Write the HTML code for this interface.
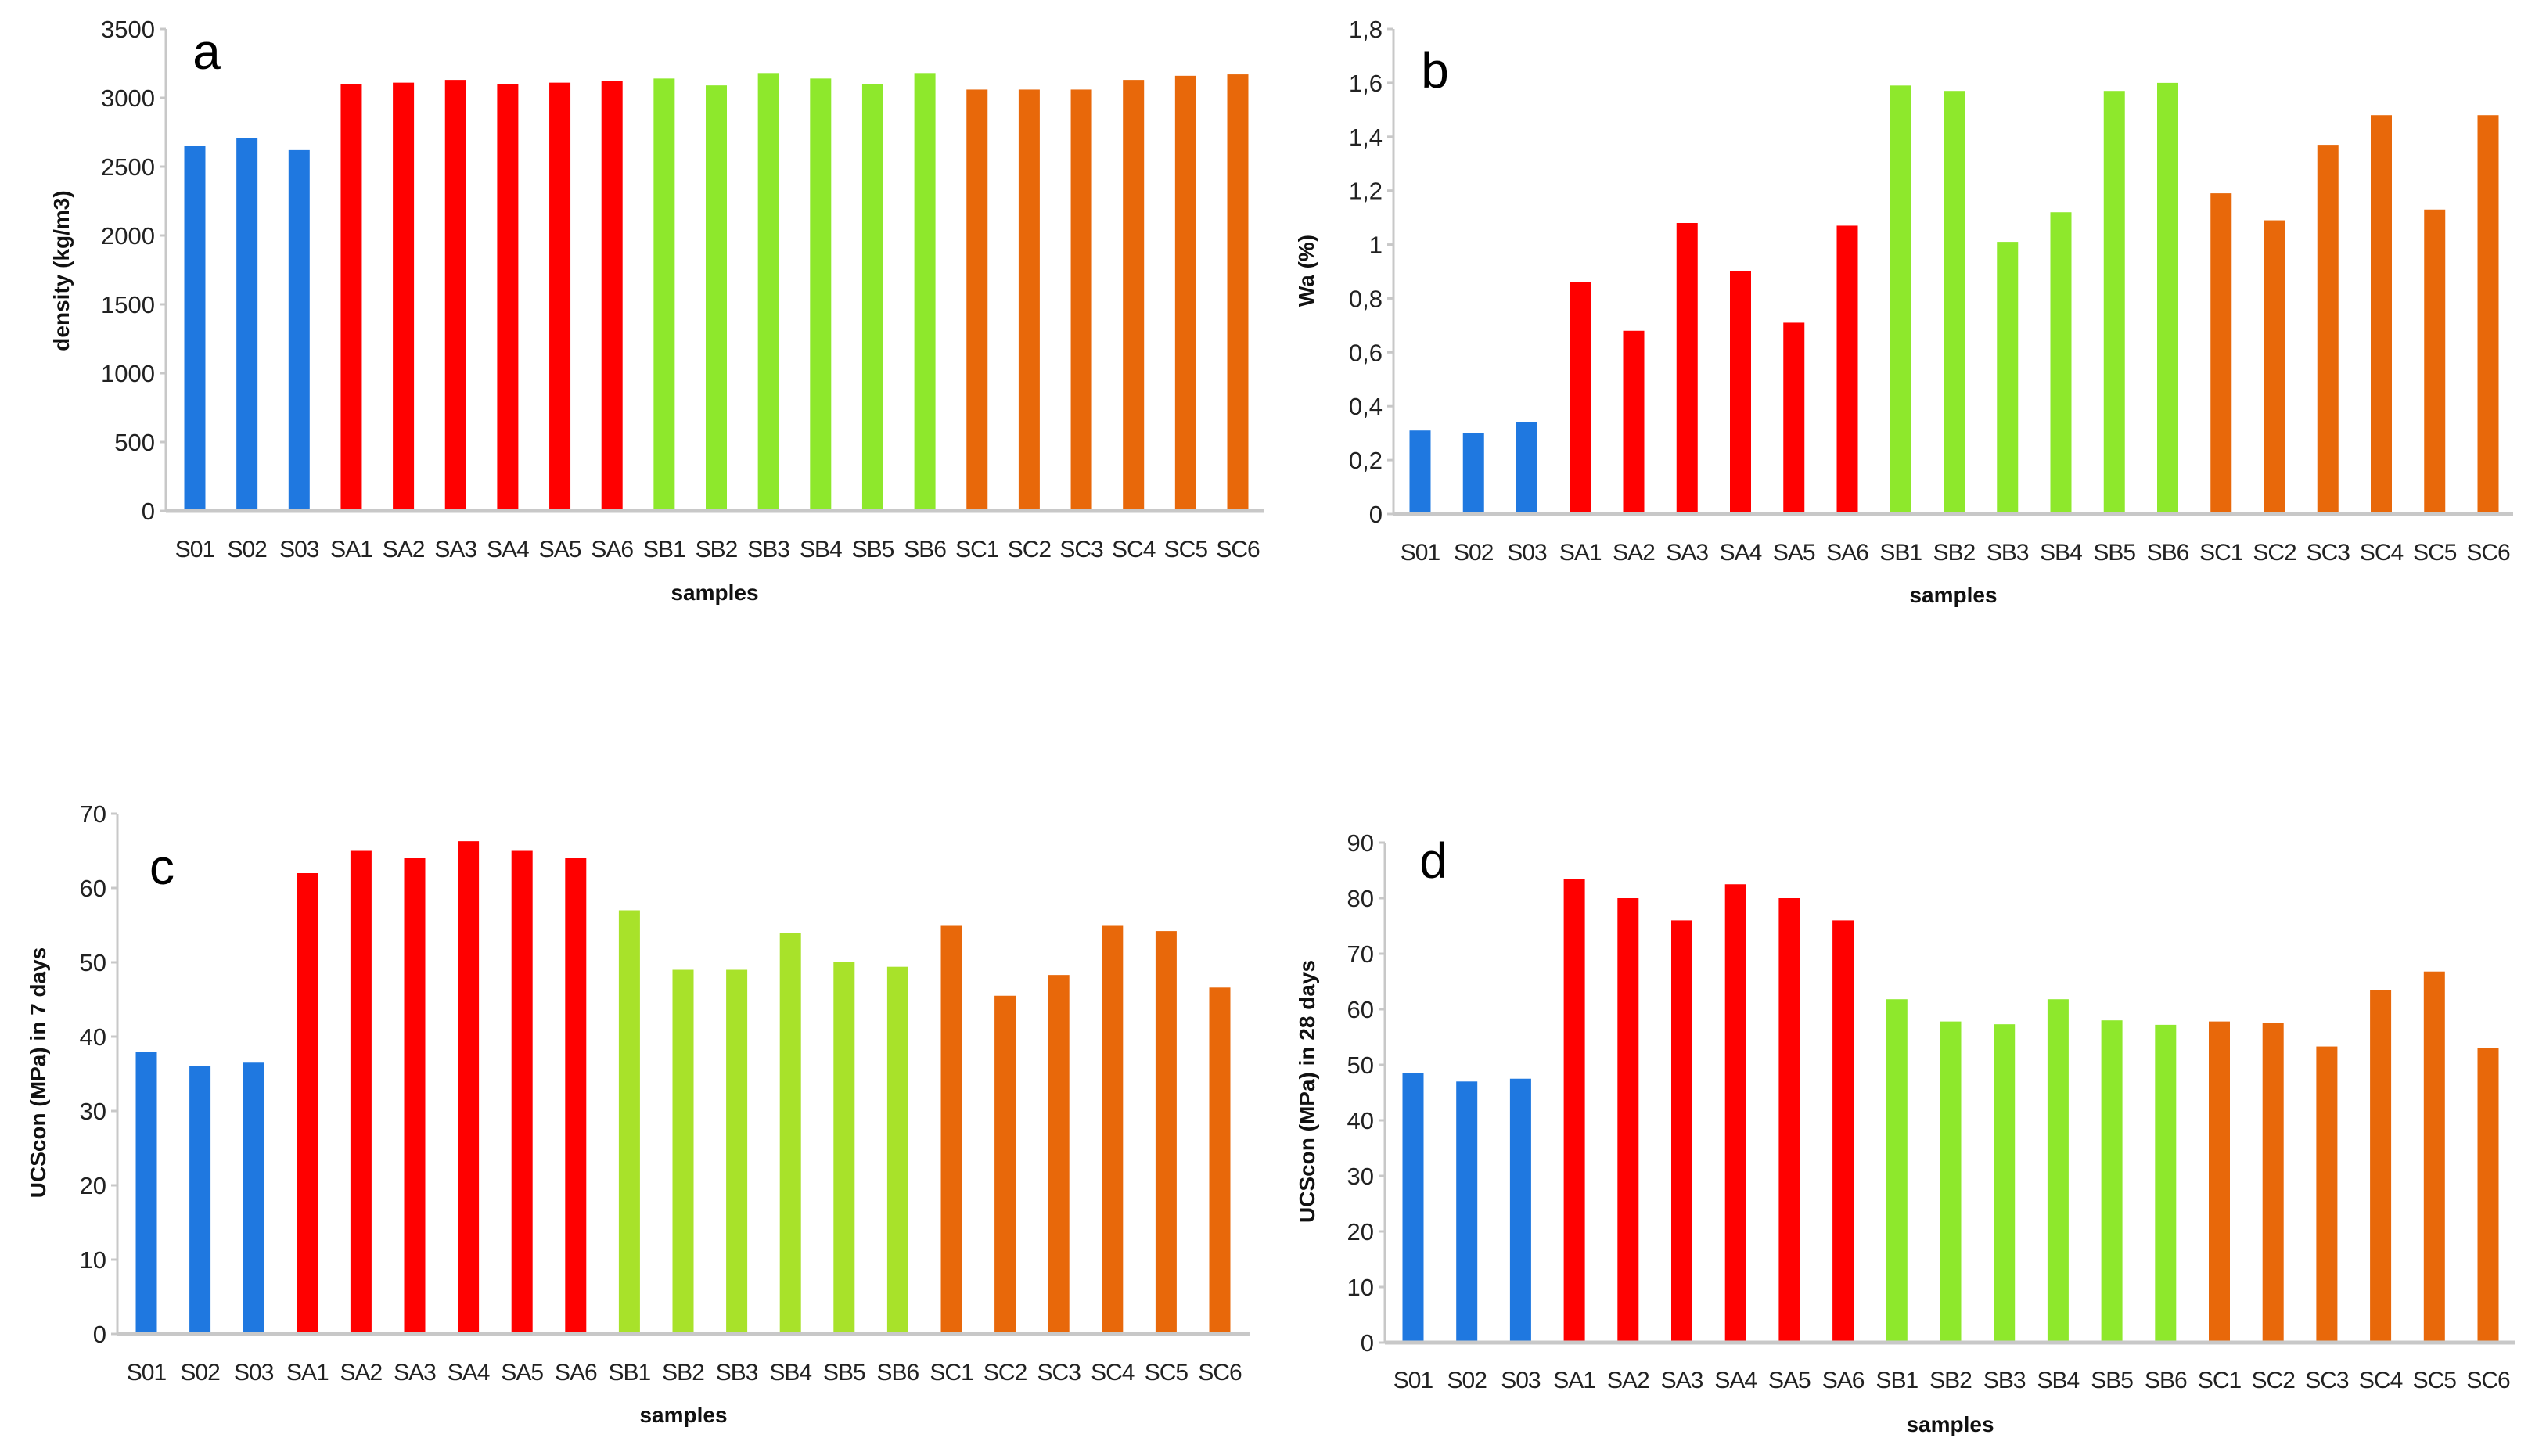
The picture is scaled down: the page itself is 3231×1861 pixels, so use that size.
<!DOCTYPE html>
<html><head><meta charset="utf-8"><style>
html,body{margin:0;padding:0;background:#fff;}
svg{display:block;font-family:"Liberation Sans",sans-serif;}
</style></head><body>
<svg id="fig" width="3231" height="1861" viewBox="0 0 3231 1861" xmlns="http://www.w3.org/2000/svg"></svg>
<script>
const categories = ["S01","S02","S03","SA1","SA2","SA3","SA4","SA5","SA6","SB1","SB2","SB3","SB4","SB5","SB6","SC1","SC2","SC3","SC4","SC5","SC6"];
const densityValues = [2650,2710,2620,3100,3110,3130,3100,3110,3120,3140,3090,3180,3140,3100,3180,3060,3060,3060,3130,3160,3170];
const waValues = [0.31,0.30,0.34,0.86,0.68,1.08,0.90,0.71,1.07,1.59,1.57,1.01,1.12,1.57,1.60,1.19,1.09,1.37,1.48,1.13,1.48];
const ucs7Values = [38,36,36.5,62,65,64,66.3,65,64,57,49,49,54,50,49.4,55,45.5,48.3,55,54.2,46.6];
const ucs28Values = [48.5,47,47.5,83.5,80,76,82.5,80,76,61.8,57.8,57.3,61.8,58,57.2,57.8,57.5,53.3,63.5,66.8,53];
const densityTicks = [0,500,1000,1500,2000,2500,3000,3500];
const waTicks = [0,0.2,0.4,0.6,0.8,1,1.2,1.4,1.6,1.8];
const waTickLabels = ["0","0,2","0,4","0,6","0,8","1","1,2","1,4","1,6","1,8"];
const ucs7Ticks = [0,10,20,30,40,50,60,70];
const ucs28Ticks = [0,10,20,30,40,50,60,70,80,90];

const NS="http://www.w3.org/2000/svg";
const svg=document.getElementById('fig');
function mk(tag,attrs,parent){const e=document.createElementNS(NS,tag);for(const k in attrs)e.setAttribute(k,attrs[k]);(parent||svg).appendChild(e);return e;}
function groupColor(i,green){if(i<3)return"#1f78e0";if(i<9)return"#ff0000";if(i<15)return green;return"#e8680a";}

function chart(cfg){
  const g=mk('g',{});
  
  
  const ymax=cfg.ticks[cfg.ticks.length-1];
  const y=v=>cfg.y0+(cfg.yTop-cfg.y0)*(v/ymax);
  const step=(cfg.xLast-cfg.xFirst)/(categories.length-1);
  const x=i=>cfg.xFirst+i*step;
  // y axis
  const ya=mk('line',{x1:cfg.ax,y1:cfg.yTop,x2:cfg.ax,y2:cfg.y0,stroke:"#c8c8c8","stroke-width":3},g);
  
  
  cfg.ticks.forEach((t,k)=>{
    const ty=y(t);
    const tl=mk('line',{x1:cfg.ax-8,y1:ty,x2:cfg.ax,y2:ty,stroke:"#c8c8c8","stroke-width":3},g);
    
    
    const tx=mk('text',{x:cfg.ax-14,y:ty+11,"text-anchor":"end","font-size":31,fill:"#222"},g);
    tx.textContent=cfg.tickLabels?cfg.tickLabels[k]:String(t);
    
    
  });
  // bars
  cfg.values.forEach((v,i)=>{
    const top=y(v);
    const b=mk('rect',{x:x(i)-13.5,y:top,width:27,height:cfg.y0-top,fill:groupColor(i,cfg.green)},g);
    
    
    const lb=mk('text',{x:x(i),y:cfg.labY,"text-anchor":"middle","font-size":30,fill:"#222","letter-spacing":-1},g);
    lb.textContent=categories[i];
    
    
  });
  const xa=mk('line',{x1:cfg.ax,y1:cfg.y0,x2:cfg.xEnd,y2:cfg.y0,stroke:"#c8c8c8","stroke-width":5},g);
  
  
  const xt=mk('text',{x:(cfg.ax+cfg.xEnd)/2,y:cfg.sampY,"text-anchor":"middle","font-size":28,"font-weight":"bold",fill:"#111"},g);
  xt.textContent="samples";
  
  
  const yt=mk('text',{x:cfg.ytX,y:cfg.ytY,"text-anchor":"middle","font-size":28,"font-weight":"bold",fill:"#111",transform:`rotate(-90 ${cfg.ytX} ${cfg.ytY})`},g);
  yt.textContent=cfg.yTitle;
  
  
  const pl=mk('text',{x:cfg.lx,y:cfg.ly,"text-anchor":"middle","font-size":64,fill:"#000"},g);
  pl.textContent=cfg.letter;
  
  
}

chart({name:'chart-a-density',values:densityValues,ticks:densityTicks,ax:212,yTop:37,y0:653,xFirst:249,xLast:1582,xEnd:1615,labY:712,sampY:767,ytX:88,ytY:346,yTitle:"density (kg/m3)",letter:"a",lx:264,ly:88,green:"#8ee82c"});
chart({name:'chart-b-wa',values:waValues,ticks:waTicks,tickLabels:waTickLabels,ax:1781,yTop:37,y0:657,xFirst:1815,xLast:3180,xEnd:3212,labY:716,sampY:770,ytX:1679,ytY:346,yTitle:"Wa (%)",letter:"b",lx:1834,ly:112,green:"#8ee82c"});
chart({name:'chart-c-ucs-7days',values:ucs7Values,ticks:ucs7Ticks,ax:150,yTop:1040,y0:1705,xFirst:187,xLast:1559,xEnd:1597,labY:1764,sampY:1818,ytX:58,ytY:1371,yTitle:"UCScon (MPa) in 7 days",letter:"c",lx:207,ly:1130,green:"#a8e22a"});
chart({name:'chart-d-ucs-28days',values:ucs28Values,ticks:ucs28Ticks,ax:1770,yTop:1077,y0:1716,xFirst:1806,xLast:3180,xEnd:3215,labY:1774,sampY:1830,ytX:1680,ytY:1395,yTitle:"UCScon (MPa) in 28 days",letter:"d",lx:1832,ly:1122,green:"#8ee82c"});
</script>
</body></html>
